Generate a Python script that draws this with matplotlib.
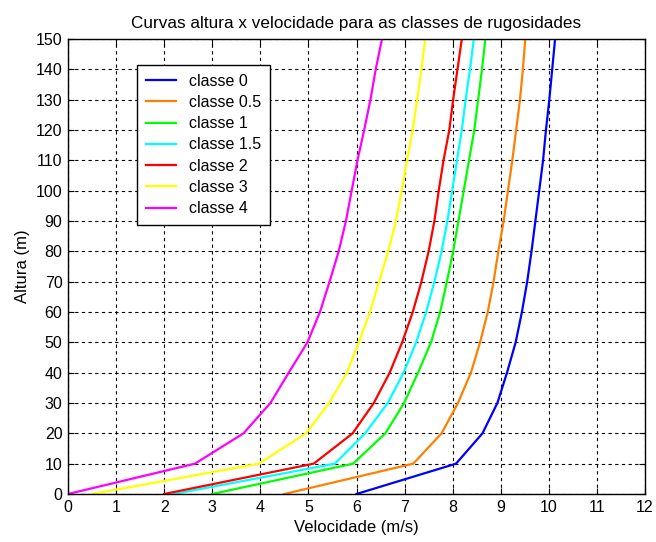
import numpy as np
import matplotlib
matplotlib.use('Agg')
import matplotlib.pyplot as plt

plt.rcParams['font.family'] = ['Liberation Sans', 'DejaVu Sans']

altura = [0, 10, 20, 30, 40, 50, 60, 70, 80, 90, 100, 110, 120, 130, 140, 150]

classe_0 = [6.0, 8.07, 8.62, 8.93, 9.13, 9.31, 9.44, 9.55, 9.64, 9.72, 9.80, 9.88, 9.94, 10.01, 10.07, 10.13]
classe_05 = [4.5, 7.18, 7.77, 8.11, 8.38, 8.57, 8.73, 8.85, 8.95, 9.06, 9.15, 9.24, 9.32, 9.40, 9.46, 9.51]
classe_1 = [3.0, 5.93, 6.60, 6.99, 7.28, 7.55, 7.74, 7.88, 8.01, 8.12, 8.23, 8.34, 8.45, 8.53, 8.61, 8.68]
classe_15 = [2.2, 5.55, 6.18, 6.65, 6.98, 7.24, 7.45, 7.62, 7.77, 7.89, 7.99, 8.09, 8.19, 8.27, 8.36, 8.44]
classe_2 = [2.0, 5.11, 5.92, 6.36, 6.69, 6.95, 7.17, 7.35, 7.50, 7.62, 7.71, 7.81, 7.93, 8.01, 8.10, 8.19]
classe_3 = [0.5, 3.97, 4.95, 5.43, 5.80, 6.05, 6.28, 6.47, 6.66, 6.82, 6.94, 7.05, 7.17, 7.26, 7.35, 7.43]
classe_4 = [0.0, 2.64, 3.65, 4.21, 4.59, 4.98, 5.24, 5.44, 5.63, 5.78, 5.90, 6.02, 6.16, 6.29, 6.40, 6.53]

series = [classe_0, classe_05, classe_1, classe_15, classe_2, classe_3, classe_4]
labels = ['classe 0', 'classe 0.5', 'classe 1', 'classe 1.5', 'classe 2', 'classe 3', 'classe 4']
colors = ['#0000ff', '#ff8000', '#00ff00', '#00ffff', '#ff0000', '#ffff00', '#ff00ff']

fig = plt.figure(figsize=(6.56, 5.42), dpi=100)
# axes box: x 68..645 px, y 39..494 px
ax = fig.add_axes([68 / 656, 1 - 494 / 542, 577 / 656, 455 / 542])

for vals, lab, c in zip(series, labels, colors):
    ax.plot(vals, altura, color=c, lw=1.6, label=lab)

ax.set_xlim(0, 12)
ax.set_ylim(0, 150)
ax.set_xticks(np.arange(0, 13, 1))
ax.set_yticks(np.arange(0, 151, 10))
ax.grid(True, color='black', linestyle=(0, (3, 3)), lw=0.8)
ax.tick_params(direction='in', top=True, right=True, length=4, labelsize=11.5, pad=4)
for s in ax.spines.values():
    s.set_linewidth(1.0)

ax.set_title('Curvas altura x velocidade para as classes de rugosidades', fontsize=12.3, pad=8)
ax.set_xlabel('Velocidade (m/s)', fontsize=12, labelpad=4)
ax.set_ylabel('Altura (m)', fontsize=12, labelpad=4)

leg = ax.legend(loc='upper left', bbox_to_anchor=(0.1196, 0.943), borderaxespad=0,
                fontsize=11.5, fancybox=False, framealpha=1, edgecolor='black',
                handlelength=1.9, labelspacing=0.39, borderpad=0.55, handletextpad=0.8)
leg.get_frame().set_linewidth(1.0)

fig.savefig('out.png', dpi=100)
